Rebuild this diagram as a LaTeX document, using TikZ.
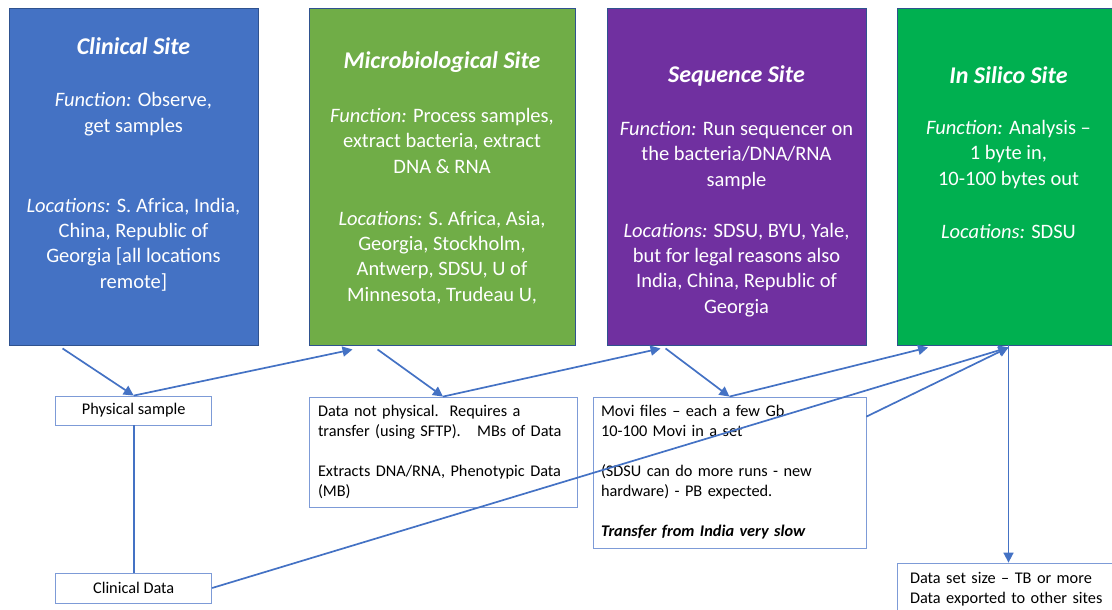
\documentclass[tikz,border=0pt]{standalone}
\usepackage{fontspec}
\setmainfont{Carlito}
\usetikzlibrary{arrows.meta,positioning,calc}
\definecolor{bleu}{RGB}{68,114,196}
\definecolor{bord}{RGB}{47,82,143}
\definecolor{vert}{RGB}{112,173,71}
\definecolor{pourpre}{RGB}{112,48,160}
\definecolor{vertvif}{RGB}{0,176,80}
\definecolor{cadre}{RGB}{125,155,215}
\tikzset{
	site/.style={draw=bord,line width=0.9pt,minimum height=337pt,inner sep=0pt},
	titre/.style={text=white,anchor=base,inner sep=0pt,font=\fontsize{24}{28}\selectfont\bfseries\itshape},
	corps/.style={text=white,anchor=base,inner sep=0pt,align=center,font=\fontsize{20.5}{25.3}\selectfont},
	boite/.style={draw=cadre,line width=0.8pt,inner sep=0pt,font=\fontsize{16.3}{20}\selectfont},
	fleche/.style={bleu,line width=1.7pt,-{Triangle[length=10pt,width=10pt]}}
}

\begin{document}
\begin{tikzpicture}[x=1pt,y=-1pt]
					\useasboundingbox (0,0) rectangle (1112,610);
					\clip (0,0) rectangle (1112,610);
					\node[site,fill=bleu,minimum width=249pt] (clin) at (133.5,176.5) {};
					\node[site,fill=vert,minimum width=266pt] (micro) at (442,176.5) {};
					\node[site,fill=pourpre,minimum width=259pt] (seq) at (736.5,176.5) {};
					\node[site,fill=vertvif,minimum width=222pt] (sil) at (1008.5,176.5) {};
					\node[titre] (clin-t) at (133.5,55) {Clinical Site};
					\node[corps] (clin-c) at (133.5,288) {\textit{Function:} Observe,\\get samples\\[54.7pt]\textit{Locations:} S. Africa, India,\\China, Republic of\\Georgia [all locations\\remote]};
					\node[titre] (micro-t) at (442,69) {Microbiological Site};
					\node[corps] (micro-c) at (442,301) {\textit{Function:} Process samples,\\extract bacteria, extract\\DNA \& RNA\\[26.7pt]\textit{Locations:} S. Africa, Asia,\\Georgia, Stockholm,\\Antwerp, SDSU, U of\\Minnesota, Trudeau U,};
					\node[titre] (seq-t) at (736.5,82) {Sequence Site};
					\node[corps] (seq-c) at (736.5,313) {\textit{Function:} Run sequencer on\\the bacteria/DNA/RNA\\sample\\[25.7pt]\textit{Locations:} SDSU, BYU, Yale,\\but for legal reasons also\\India, China, Republic of\\Georgia};
					\node[titre] (sil-t) at (1008.5,84) {In Silico Site};
					\node[corps] (sil-c) at (1008.5,238) {\textit{Function:} Analysis --\\1 byte in,\\10-100 bytes out\\[27.7pt]\textit{Locations:} SDSU};
					\node[boite,minimum width=156pt,minimum height=29pt] (phys) at (133.7,410.5) {Physical sample};
					\node[boite,minimum width=156pt,minimum height=30pt] (cdata) at (133.7,588) {Clinical Data};
					\node[boite,minimum width=268pt,minimum height=110pt,align=left,text width=250pt] (dnp) at (443,452) {Data not physical.\ \ Requires a\\transfer (using SFTP).\ \ \ MBs of Data\\[20pt]Extracts DNA/RNA, Phenotypic Data\\(MB)};
					\node[boite,minimum width=273pt,minimum height=151pt,align=left,text width=257pt] (movi) at (729.5,472.5) {Movi files -- each a few Gb\\10-100 Movi in a set\\[20pt](SDSU can do more runs - new\\hardware) - PB expected.\\[20pt]\textbf{\textit{Transfer from India very slow}}};
					\node[boite,minimum width=223pt,minimum height=52pt,align=left,text width=197pt] (dset) at (1008.5,589) {Data set size -- TB or more\\Data exported to other sites};
					\draw[fleche] ([xshift=54pt,yshift=-3pt]clin.south west) -- (phys.north);
					\draw[fleche] (phys.north) -- ([xshift=44pt,yshift=-4pt]micro.south west);
					\draw[fleche] ([xshift=69pt,yshift=-4pt]micro.south west) -- (dnp.north);
					\draw[fleche] (dnp.north) -- ([xshift=54pt,yshift=-3pt]seq.south west);
					\draw[fleche] ([xshift=59pt,yshift=-3pt]seq.south west) -- (movi.north);
					\draw[fleche] (movi.north) -- ([xshift=31pt,yshift=-2pt]sil.south west);
					\draw[fleche] (cdata.east) -- ([yshift=-2pt]sil.south);
					\draw[fleche] ([yshift=-20pt]movi.north east) -- ([yshift=-2pt]sil.south);
					\draw[fleche] (sil.south) -- (dset.north);
					\draw[bleu,line width=1.7pt] (phys.south) -- (cdata.north);
				\end{tikzpicture}
\end{document}
